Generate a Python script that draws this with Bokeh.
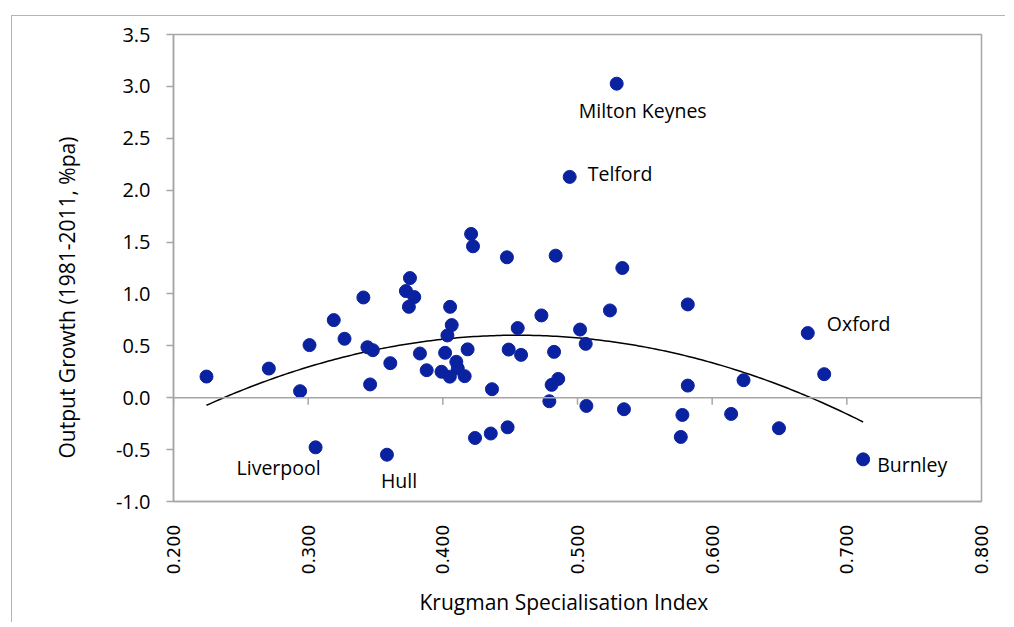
import numpy as np
from bokeh.plotting import figure
from bokeh.models import ColumnDataSource, LabelSet, FixedTicker, Span, CustomJSTickFormatter, Title
from bokeh.core.properties import value
from bokeh.embed import file_html
from bokeh.resources import INLINE

# ---- data ----
krugman = [0.2245, 0.2708, 0.2940, 0.3010, 0.3055, 0.3190, 0.3270, 0.3410, 0.3440, 0.3480,
           0.3460, 0.3610, 0.3585, 0.3756, 0.3726, 0.3788, 0.3748, 0.3830, 0.3880, 0.3990,
           0.4017, 0.4034, 0.4066, 0.4054, 0.4052, 0.4100, 0.4111, 0.4162, 0.4184, 0.4210,
           0.4224, 0.4365, 0.4239, 0.4356, 0.4481, 0.4476, 0.4489, 0.4556, 0.4581, 0.4732,
           0.4791, 0.4808, 0.4857, 0.4826, 0.4838, 0.4942, 0.5291, 0.5019, 0.5061, 0.5066,
           0.5241, 0.5333, 0.5345, 0.5819, 0.5819, 0.5779, 0.5767, 0.6141, 0.6233, 0.6496,
           0.6710, 0.6832, 0.7121]
growth = [0.204, 0.281, 0.063, 0.507, -0.478, 0.748, 0.568, 0.966, 0.487, 0.458,
          0.128, 0.333, -0.549, 1.153, 1.028, 0.970, 0.876, 0.426, 0.265, 0.250,
          0.433, 0.600, 0.700, 0.876, 0.203, 0.346, 0.282, 0.208, 0.466, 1.578,
          1.459, 0.082, -0.388, -0.345, -0.285, 1.353, 0.464, 0.671, 0.413, 0.793,
          -0.034, 0.124, 0.181, 0.442, 1.369, 2.128, 3.026, 0.657, 0.519, -0.079,
          0.841, 1.250, -0.111, 0.899, 0.117, -0.166, -0.378, -0.156, 0.169, -0.294,
          0.623, 0.227, -0.594]
names = [""] * len(krugman)
names[4] = "Liverpool"
names[12] = "Hull"
names[45] = "Telford"
names[46] = "Milton Keynes"
names[60] = "Oxford"
names[62] = "Burnley"

x_ticks = [0.2, 0.3, 0.4, 0.5, 0.6, 0.7, 0.8]
y_ticks = [-1.0, -0.5, 0.0, 0.5, 1.0, 1.5, 2.0, 2.5, 3.0, 3.5]
x_title = "Krugman Specialisation Index"
y_title = "Output Growth (1981-2011, %pa)"

# ---- styling ----
label_offsets = {  # name: (dx, dy) in screen px
    "Milton Keynes": (-38, -40),
    "Telford": (18, -10),
    "Oxford": (19, -4),
    "Burnley": (14, -19),
    "Liverpool": (-79, -34),
    "Hull": (-6, -39),
}
FONT = "Open Sans"
GRAY = "#a6a6a6"
DOT = "#0a22a0"

p = figure(width=994, height=607, output_backend="svg", toolbar_location=None,
           x_range=(0.2, 0.8), y_range=(-1.0, 3.5),
           min_border_left=161, min_border_right=25, min_border_top=18, min_border_bottom=112)
p.styles = {"margin-left": "11px", "margin-top": "15px",
            "border-left": "1px solid #b4b4b4", "border-top": "1px solid #b4b4b4"}
p.xgrid.visible = False
p.ygrid.visible = False
p.outline_line_color = GRAY
p.outline_line_width = 1.5

# x axis (labels at bottom; ticks drawn on the zero line)
p.xaxis.ticker = FixedTicker(ticks=x_ticks)
p.xaxis.formatter = CustomJSTickFormatter(code="return tick.toFixed(3);")
p.xaxis.major_label_orientation = np.pi / 2
p.xaxis.major_tick_in = 0
p.xaxis.major_tick_out = 0
p.xaxis.minor_tick_line_color = None
p.xaxis.axis_line_color = GRAY
p.xaxis.axis_line_width = 1.5
p.xaxis.major_label_standoff = 23
p.xaxis.major_label_text_font = "DejaVu Sans"
p.xaxis.major_label_text_font_size = "17.5px"
p.xaxis.major_label_text_color = "#000000"

# x title, slightly left of centre as in the reference
p.add_layout(Title(text=x_title, align="left", offset=246, standoff=16,
                   text_font=FONT, text_font_style="normal", text_font_size="21px",
                   text_color="#000000"), "below")

# y axis
p.yaxis.ticker = FixedTicker(ticks=y_ticks)
p.yaxis.formatter = CustomJSTickFormatter(code="return tick.toFixed(1);")
p.yaxis.major_tick_in = 0
p.yaxis.major_tick_out = 7
p.yaxis.major_tick_line_color = GRAY
p.yaxis.major_tick_line_width = 1.5
p.yaxis.minor_tick_line_color = None
p.yaxis.axis_line_color = GRAY
p.yaxis.axis_line_width = 1.5
p.yaxis.major_label_standoff = 16
p.yaxis.major_label_text_font = FONT
p.yaxis.major_label_text_font_size = "20px"
p.yaxis.major_label_text_color = "#000000"

# y title placed below centre, as in the reference
p.add_layout(Title(text=y_title, align="left", offset=43, standoff=64,
                   text_font=FONT, text_font_style="normal", text_font_size="21px",
                   text_color="#000000"), "left")

# zero line with tick marks
p.add_layout(Span(location=0, dimension="width", line_color=GRAY, line_width=1.5))
tick_len = 7 / 103.6
p.segment(x0=x_ticks, y0=[0] * len(x_ticks), x1=x_ticks, y1=[-tick_len] * len(x_ticks),
          line_color=GRAY, line_width=1.5)

# quadratic trend line fitted to the data
coef = np.polyfit(krugman, growth, 2)
tx = np.linspace(min(krugman), max(krugman), 200)
p.line(tx, np.polyval(coef, tx), line_color="black", line_width=1.5)

src = ColumnDataSource(dict(
    x=krugman, y=growth, name=names,
    dx=[label_offsets.get(n, (0, 0))[0] for n in names],
    dy=[label_offsets.get(n, (0, 0))[1] for n in names],
))
p.scatter("x", "y", source=src, size=13, fill_color=DOT, line_color=DOT)

labels = LabelSet(x="x", y="y", text="name", source=src, x_offset="dx", y_offset="dy",
                  text_font=value(FONT), text_font_size="19.5px", text_color="#000000",
                  text_baseline="bottom")
p.add_layout(labels)

open("out.html", "w").write(file_html(p, INLINE))
